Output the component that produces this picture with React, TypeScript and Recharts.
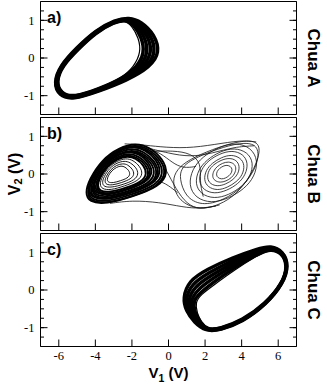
import React from 'react';
import { ComposedChart, Line, XAxis, YAxis } from 'recharts';

const W = 327;
const H = 385;
const PL = 40.5;
const PW = 256;
const PH = 113;
const PANEL_TOPS = [1.5, 117.5, 233.5];
const AX = 0.01;

const X_MAJOR = [-6, -4, -2, 0, 2, 4, 6];
const Y_MAJOR = [-1, 0, 1];
const X_MINOR = Array.from({ length: 71 }, (_, i) => Math.round((-7 + i * 0.2) * 10) / 10);
const Y_MINOR = [-1.5, -1.25, -1, -0.75, -0.5, -0.25, 0, 0.25, 0.5, 0.75, 1, 1.25, 1.5];

const PANEL_LABELS = ['a)', 'b)', 'c)'];
const SIDE_LABELS = ['Chua A', 'Chua B', 'Chua C'];

type P = [number, number][];

// Panel a: single-scroll attractor (left)
const A0: P = [[-6.28,-0.66],[-5.99,-1.0],[-5.25,-1.11],[-3.8,-0.88],[-2.3,-0.6],[-1.0,-0.24],[-0.47,0.14],[-0.75,0.62],[-1.5,0.97],[-2.15,1.08],[-2.92,1.01],[-3.97,0.74],[-5.05,0.26],[-5.92,-0.2]];
const A1: P = [[-6.25,-0.655],[-5.96,-0.985],[-5.24,-1.095],[-3.8,-0.865],[-2.35,-0.585],[-1.18,-0.24],[-0.68,0.14],[-0.93,0.6],[-1.6,0.95],[-2.2,1.065],[-2.93,0.995],[-3.97,0.725],[-5.03,0.25],[-5.89,-0.2]];
const A2: P = [[-6.22,-0.65],[-5.93,-0.97],[-5.23,-1.08],[-3.8,-0.85],[-2.4,-0.57],[-1.36,-0.24],[-0.89,0.14],[-1.1,0.58],[-1.7,0.93],[-2.25,1.05],[-2.94,0.98],[-3.97,0.71],[-5.01,0.24],[-5.86,-0.2]];
const A3: P = [[-6.19,-0.645],[-5.9,-0.955],[-5.22,-1.065],[-3.8,-0.835],[-2.45,-0.555],[-1.54,-0.24],[-1.1,0.14],[-1.28,0.56],[-1.8,0.91],[-2.3,1.035],[-2.96,0.965],[-3.97,0.695],[-4.99,0.23],[-5.83,-0.2]];
const A4: P = [[-6.16,-0.64],[-5.87,-0.94],[-5.21,-1.05],[-3.8,-0.82],[-2.5,-0.54],[-1.72,-0.24],[-1.3,0.14],[-1.46,0.54],[-1.9,0.89],[-2.35,1.02],[-2.98,0.95],[-3.97,0.68],[-4.97,0.22],[-5.8,-0.2]];
const A5: P = [[-6.12,-0.635],[-5.84,-0.925],[-5.2,-1.035],[-3.8,-0.805],[-2.55,-0.525],[-1.9,-0.24],[-1.5,0.16],[-1.63,0.53],[-2.0,0.86],[-2.4,1.0],[-3.0,0.935],[-3.97,0.665],[-4.95,0.21],[-5.77,-0.2]];

// Panel c: single-scroll attractor (right)
const C0: P = [[6.58,0.66],[6.27,1.03],[5.6,1.18],[4.9,1.1],[3.5,0.86],[2.1,0.55],[1.1,0.24],[0.78,-0.22],[0.95,-0.55],[1.4,-0.86],[2.05,-1.1],[2.8,-1.07],[4.05,-0.85],[5.35,-0.38],[6.28,0.17]];
const C1: P = [[6.565,0.655],[6.255,1.02],[5.59,1.16],[4.88,1.06],[3.5,0.79],[2.15,0.45],[1.25,0.15],[0.92,-0.24],[1.07,-0.56],[1.48,-0.855],[2.07,-1.09],[2.8,-1.06],[4.045,-0.84],[5.34,-0.375],[6.265,0.17]];
const C2: P = [[6.55,0.65],[6.24,1.01],[5.58,1.14],[4.86,1.02],[3.52,0.72],[2.22,0.36],[1.4,0.07],[1.06,-0.26],[1.19,-0.57],[1.56,-0.85],[2.09,-1.08],[2.8,-1.05],[4.04,-0.83],[5.33,-0.37],[6.25,0.17]];
const C3: P = [[6.535,0.645],[6.225,1.0],[5.57,1.12],[4.84,0.98],[3.54,0.65],[2.3,0.27],[1.55,-0.01],[1.2,-0.28],[1.31,-0.58],[1.64,-0.85],[2.11,-1.07],[2.8,-1.04],[4.035,-0.82],[5.32,-0.365],[6.235,0.17]];
const C4: P = [[6.52,0.64],[6.21,0.99],[5.56,1.1],[4.82,0.94],[3.56,0.58],[2.38,0.18],[1.7,-0.09],[1.34,-0.3],[1.43,-0.59],[1.72,-0.85],[2.13,-1.06],[2.8,-1.03],[4.03,-0.81],[5.31,-0.36],[6.22,0.17]];
const C5: P = [[6.505,0.635],[6.195,0.98],[5.55,1.08],[4.8,0.9],[3.58,0.52],[2.42,0.11],[1.78,-0.12],[1.46,-0.33],[1.56,-0.62],[1.8,-0.86],[2.15,-1.05],[2.8,-1.02],[4.025,-0.8],[5.3,-0.355],[6.205,0.17]];

// Panel b: double-scroll, left lobe (dense outer part)
const B_LEFT_OUTER: P[] = [
  [[-4.55,-0.5],[-4.35,-0.75],[-3.4,-0.8],[-1.95,-0.6],[-0.5,-0.33],[-0.02,0.02],[-0.3,0.4],[-1.05,0.72],[-1.8,0.82],[-2.7,0.7],[-3.65,0.38],[-4.35,-0.16]],
  [[-4.46,-0.49],[-4.27,-0.73],[-3.36,-0.78],[-1.97,-0.59],[-0.58,-0.33],[-0.12,0.01],[-0.38,0.37],[-1.1,0.68],[-1.82,0.78],[-2.69,0.66],[-3.6,0.35],[-4.27,-0.16]],
  [[-4.42,-0.46],[-4.23,-0.69],[-3.36,-0.74],[-2.03,-0.55],[-0.69,-0.31],[-0.25,0.02],[-0.51,0.37],[-1.2,0.66],[-1.89,0.75],[-2.72,0.64],[-3.59,0.35],[-4.23,-0.15]],
  [[-4.37,-0.42],[-4.2,-0.64],[-3.36,-0.69],[-2.08,-0.51],[-0.81,-0.27],[-0.39,0.04],[-0.63,0.37],[-1.29,0.65],[-1.95,0.74],[-2.74,0.63],[-3.58,0.35],[-4.2,-0.12]],
  [[-4.29,-0.42],[-4.12,-0.63],[-3.32,-0.68],[-2.1,-0.51],[-0.88,-0.28],[-0.48,0.01],[-0.72,0.33],[-1.35,0.6],[-1.98,0.69],[-2.73,0.59],[-3.53,0.32],[-4.12,-0.14]],
  [[-4.2,-0.41],[-4.04,-0.61],[-3.28,-0.65],[-2.12,-0.49],[-0.96,-0.28],[-0.58,0.0],[-0.8,0.31],[-1.4,0.56],[-2.0,0.64],[-2.72,0.55],[-3.48,0.29],[-4.04,-0.14]],
  [[-4.15,-0.39],[-4.0,-0.57],[-3.28,-0.61],[-2.18,-0.46],[-1.08,-0.26],[-0.71,0.01],[-0.92,0.3],[-1.49,0.54],[-2.06,0.62],[-2.75,0.53],[-3.47,0.28],[-4.0,-0.13]],
  [[-4.11,-0.35],[-3.96,-0.53],[-3.28,-0.56],[-2.24,-0.42],[-1.19,-0.22],[-0.85,0.03],[-1.05,0.3],[-1.59,0.53],[-2.13,0.6],[-2.78,0.52],[-3.46,0.29],[-3.96,-0.1]],
  [[-4.02,-0.35],[-3.89,-0.52],[-3.24,-0.55],[-2.25,-0.41],[-1.27,-0.23],[-0.94,0.01],[-1.13,0.27],[-1.64,0.48],[-2.15,0.55],[-2.76,0.47],[-3.41,0.25],[-3.89,-0.12]],
  [[-3.94,-0.34],[-3.81,-0.5],[-3.2,-0.53],[-2.27,-0.4],[-1.34,-0.23],[-1.04,0.0],[-1.22,0.24],[-1.7,0.44],[-2.18,0.51],[-2.75,0.43],[-3.36,0.23],[-3.81,-0.12]],
  [[-3.89,-0.31],[-3.77,-0.46],[-3.2,-0.49],[-2.33,-0.37],[-1.46,-0.21],[-1.17,0.0],[-1.34,0.23],[-1.79,0.42],[-2.24,0.48],[-2.78,0.41],[-3.35,0.22],[-3.77,-0.1]],
];

// Panel b: left lobe (sparser core)
const B_LEFT_CORE: P[] = [
  [[-3.76,-0.27],[-3.65,-0.4],[-3.16,-0.43],[-2.41,-0.32],[-1.65,-0.18],[-1.4,0.0],[-1.55,0.2],[-1.94,0.37],[-2.33,0.42],[-2.8,0.35],[-3.29,0.19],[-3.65,-0.09]],
  [[-3.63,-0.23],[-3.54,-0.34],[-3.12,-0.36],[-2.48,-0.28],[-1.84,-0.16],[-1.63,0.0],[-1.76,0.17],[-2.09,0.31],[-2.42,0.35],[-2.81,0.3],[-3.23,0.16],[-3.54,-0.08]],
  [[-3.49,-0.19],[-3.42,-0.28],[-3.08,-0.3],[-2.56,-0.23],[-2.04,-0.13],[-1.86,-0.01],[-1.96,0.13],[-2.23,0.25],[-2.5,0.28],[-2.83,0.24],[-3.17,0.12],[-3.42,-0.07]],
  [[-3.36,-0.15],[-3.31,-0.22],[-3.04,-0.24],[-2.63,-0.18],[-2.23,-0.11],[-2.09,-0.01],[-2.17,0.1],[-2.38,0.19],[-2.59,0.22],[-2.84,0.18],[-3.11,0.09],[-3.31,-0.06]],
];

// Panel b: right lobe (sparse)
const B_RIGHT: P[] = [
  [[0.22,-0.26],[0.55,-0.72],[1.67,-0.97],[2.8,-0.82],[3.7,-0.55],[4.55,-0.02],[5.08,0.62],[4.8,0.92],[3.5,0.84],[2.0,0.58],[0.9,0.32],[0.35,0.05]],
  [[0.6,-0.1],[0.9,-0.6],[1.8,-0.85],[3.0,-0.7],[4.1,-0.35],[4.9,0.25],[4.95,0.75],[4.2,0.85],[3.0,0.72],[1.8,0.5],[1.0,0.3],[0.7,0.12]],
  [[4.9,0.36],[4.52,0.7],[3.67,0.84],[2.72,0.71],[1.86,0.46],[1.29,0.13],[1.1,-0.3],[1.48,-0.64],[2.34,-0.78],[3.29,-0.65],[4.14,-0.4],[4.71,-0.07]],
  [[4.65,0.3],[4.33,0.58],[3.61,0.7],[2.81,0.6],[2.09,0.38],[1.61,0.1],[1.45,-0.26],[1.77,-0.54],[2.49,-0.66],[3.29,-0.56],[4.01,-0.34],[4.49,-0.06]],
  [[4.36,0.29],[4.09,0.53],[3.48,0.63],[2.8,0.54],[2.18,0.36],[1.78,0.12],[1.64,-0.19],[1.91,-0.43],[2.52,-0.53],[3.2,-0.44],[3.82,-0.26],[4.22,-0.02]],
  [[4.17,0.24],[3.95,0.43],[3.44,0.52],[2.88,0.44],[2.38,0.29],[2.04,0.1],[1.93,-0.16],[2.15,-0.35],[2.66,-0.44],[3.22,-0.36],[3.72,-0.21],[4.06,-0.02]],
  [[3.9,0.21],[3.72,0.37],[3.32,0.43],[2.87,0.37],[2.46,0.25],[2.19,0.1],[2.1,-0.11],[2.28,-0.27],[2.69,-0.33],[3.14,-0.27],[3.54,-0.15],[3.81,0.0]],
  [[3.71,0.17],[3.58,0.28],[3.28,0.33],[2.95,0.29],[2.65,0.2],[2.46,0.08],[2.39,-0.07],[2.52,-0.18],[2.82,-0.23],[3.15,-0.19],[3.45,-0.1],[3.64,0.02]],
  [[3.49,0.13],[3.4,0.2],[3.2,0.24],[2.98,0.21],[2.79,0.15],[2.65,0.07],[2.61,-0.03],[2.7,-0.1],[2.9,-0.14],[3.12,-0.11],[3.31,-0.05],[3.45,0.03]],
];

// Panel b: transitions between the lobes
const B_LINKS: P[] = [
  [[-2.4,0.8],[-1.5,0.78],[-0.5,0.72],[1.0,0.68],[2.5,0.78],[4.0,0.9],[4.8,0.85]],
  [[-1.2,0.7],[0.0,0.55],[1.2,0.45],[2.4,0.55],[3.6,0.72],[4.7,0.75]],
  [[-0.6,0.45],[-0.1,0.1],[0.4,-0.4],[1.0,-0.8],[1.7,-0.95],[2.8,-0.82]],
  [[-3.2,-0.78],[-2.0,-0.7],[-0.5,-0.75],[0.8,-0.88],[1.7,-0.92],[2.6,-0.85]],
  [[1.5,0.2],[0.8,0.15],[0.2,0.3],[-0.4,0.55],[-1.3,0.72]],
  [[0.5,-0.5],[0.0,-0.3],[-0.6,-0.15],[-1.2,-0.3],[-2.0,-0.55]],
  [[-1.0,0.6],[0.3,0.62],[1.2,0.55],[1.8,0.3],[1.7,-0.2],[1.9,-0.6]],
];

type Series = { pts: P; w: number; color: string; type: any };

const PANEL_SERIES: Series[][] = [
  [
    ...[A0, A1, A2, A3, A4].map((pts) => ({ pts, w: 3.5, color: '#000', type: 'basisClosed' })),
    { pts: A5, w: 1.2, color: '#000', type: 'basisClosed' },
  ],
  [
    ...B_LINKS.map((pts) => ({ pts, w: 0.8, color: '#111', type: 'basis' })),
    ...B_RIGHT.map((pts) => ({ pts, w: 0.8, color: '#111', type: 'basisClosed' })),
    ...B_LEFT_OUTER.map((pts) => ({ pts, w: 1.9, color: '#000', type: 'basisClosed' })),
    ...B_LEFT_CORE.map((pts) => ({ pts, w: 0.9, color: '#000', type: 'basisClosed' })),
  ],
  [
    ...[C0, C1, C2, C3, C4].map((pts) => ({ pts, w: 3.4, color: '#000', type: 'basisClosed' })),
    { pts: C5, w: 1.2, color: '#000', type: 'basisClosed' },
  ],
];

const toPts = (p: P) => p.map(([x, y]) => ({ x, y }));

const SERIF = "'Liberation Serif', 'Times New Roman', serif";
const tickFont = { fontSize: 12.5, fill: '#000', fontFamily: SERIF };
const blank = () => '';

function Panel({ top, series, showX }: { top: number; series: Series[]; showX: boolean }) {
  return (
    <div style={{ position: 'absolute', left: 0, top: 0 }}>
      <ComposedChart
        width={W}
        height={H}
        margin={{ top: top - 2 * AX, bottom: H - top - PH - 2 * AX, left: PL - 2 * AX, right: W - PL - PW - 2 * AX }}
      >
        <XAxis xAxisId="main" type="number" dataKey="x" domain={[-7, 7]} allowDataOverflow
          ticks={X_MAJOR} interval={0} height={AX} orientation="bottom" tickSize={-7} tickMargin={12}
          stroke="#000" tick={tickFont} tickFormatter={showX ? undefined : blank} />
        <XAxis xAxisId="minB" type="number" domain={[-7, 7]} allowDataOverflow
          ticks={X_MINOR} interval={0} height={AX} orientation="bottom" tickSize={-3.5}
          stroke="#000" axisLine={false} tick={tickFont} tickFormatter={blank} />
        <XAxis xAxisId="majT" type="number" domain={[-7, 7]} allowDataOverflow
          ticks={X_MAJOR} interval={0} height={AX} orientation="top" tickSize={-7}
          stroke="#000" tick={tickFont} tickFormatter={blank} />
        <XAxis xAxisId="minT" type="number" domain={[-7, 7]} allowDataOverflow
          ticks={X_MINOR} interval={0} height={AX} orientation="top" tickSize={-3.5}
          stroke="#000" axisLine={false} tick={tickFont} tickFormatter={blank} />
        <YAxis yAxisId="main" type="number" domain={[-1.5, 1.5]} allowDataOverflow
          ticks={Y_MAJOR} interval={0} width={AX} orientation="left" tickSize={-7} tickMargin={13}
          stroke="#000" tick={tickFont} />
        <YAxis yAxisId="minL" type="number" domain={[-1.5, 1.5]} allowDataOverflow
          ticks={Y_MINOR} interval={0} width={AX} orientation="left" tickSize={-3.5}
          stroke="#000" axisLine={false} tick={tickFont} tickFormatter={blank} />
        <YAxis yAxisId="majR" type="number" domain={[-1.5, 1.5]} allowDataOverflow
          ticks={Y_MAJOR} interval={0} width={AX} orientation="right" tickSize={-7}
          stroke="#000" tick={tickFont} tickFormatter={blank} />
        <YAxis yAxisId="minR" type="number" domain={[-1.5, 1.5]} allowDataOverflow
          ticks={Y_MINOR} interval={0} width={AX} orientation="right" tickSize={-3.5}
          stroke="#000" axisLine={false} tick={tickFont} tickFormatter={blank} />
        {series.map((s, i) => (
          <Line key={i} xAxisId="main" yAxisId="main" data={toPts(s.pts)} dataKey="y"
            type={s.type} stroke={s.color} strokeWidth={s.w} strokeLinejoin="round"
            dot={false} activeDot={false} isAnimationActive={false} />
        ))}
      </ComposedChart>
    </div>
  );
}

const bold = { fontFamily: "'Liberation Sans', Arial, sans-serif", fontWeight: 700, fill: '#000' };

export default function App() {
  return (
    <div style={{ position: 'absolute', left: 0, top: 0, width: W, height: H, background: '#fff' }}>
      <style>{`.recharts-cartesian-axis-tick-value { font-family: ${SERIF}; }`}</style>
      {PANEL_TOPS.map((t, i) => (
        <Panel key={i} top={t} series={PANEL_SERIES[i]} showX={i === 2} />
      ))}
      <svg width={W} height={H} style={{ position: 'absolute', left: 0, top: 0, pointerEvents: 'none' }}>
        {PANEL_TOPS.map((t, i) => (
          <text key={'p' + i} x={47} y={t + 21} style={{ ...bold, fontSize: 16 }}>{PANEL_LABELS[i]}</text>
        ))}
        {PANEL_TOPS.map((t, i) => (
          <text key={'s' + i} transform={`translate(313, ${t + PH / 2}) rotate(90)`} textAnchor="middle"
            dominantBaseline="central" style={{ ...bold, fontSize: 17 }}>{SIDE_LABELS[i]}</text>
        ))}
        <text transform={`translate(14, ${PANEL_TOPS[1] + PH / 2}) rotate(-90)`} textAnchor="middle"
          dominantBaseline="central" style={{ ...bold, fontSize: 16 }}>
          V<tspan dy={4} fontSize={11}>2</tspan><tspan dy={-4}> (V)</tspan>
        </text>
        <text x={PL + PW / 2} y={378} textAnchor="middle" style={{ ...bold, fontSize: 15 }}>
          V<tspan dy={4} fontSize={10.5}>1</tspan><tspan dy={-4}> (V)</tspan>
        </text>
      </svg>
    </div>
  );
}
